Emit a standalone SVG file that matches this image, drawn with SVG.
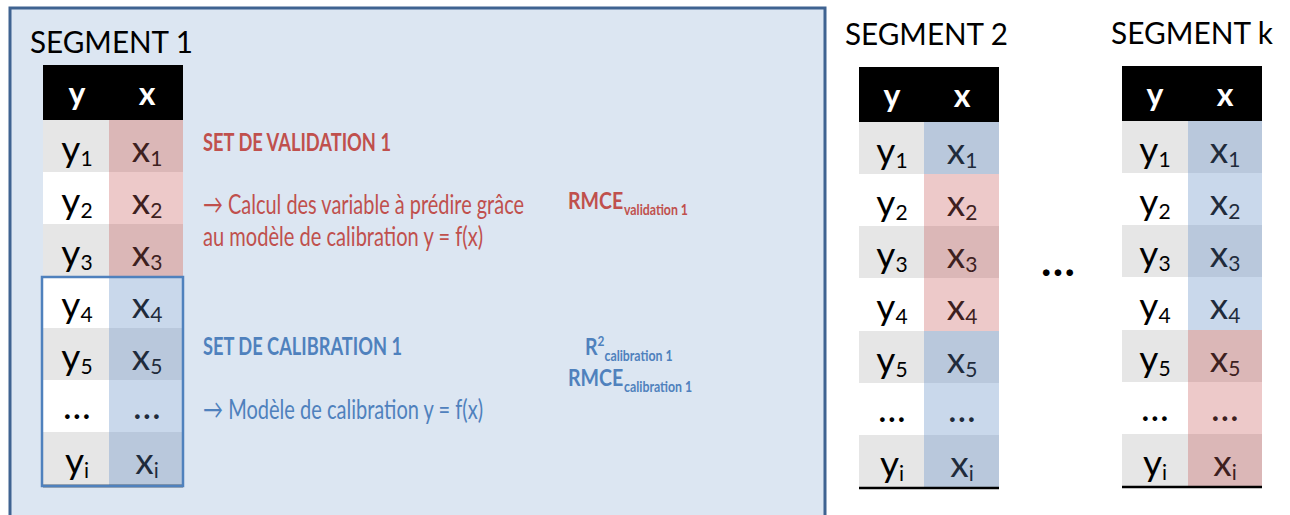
<svg xmlns="http://www.w3.org/2000/svg" width="1290" height="515" viewBox="0 0 1290 515">
<style>
text{font-family:Lato,"Open Sans","Liberation Sans",sans-serif}
.title{font-size:30px;fill:#000}
.hd{font-size:32px;font-weight:bold;fill:#fff;text-anchor:middle}
.c{font-size:37px;text-anchor:middle;fill:#000}
.cr{font-size:37px;text-anchor:middle;fill:#3d2020}
.cb{font-size:37px;text-anchor:middle;fill:#1f2b3b}
.s{font-size:21px}
.g{fill:#e6e6e6}
.w{fill:#ffffff}
.rd{fill:#dbb7b7}
.rl{fill:#edc9c9}
.bd{fill:#b9c8dc}
.bl{fill:#c9d8eb}
.red{fill:#c0504d}
.blue{fill:#4f81bd}
.m{font-size:23px;font-weight:bold}
.ms{font-size:14.5px}
</style>
<g id="segment1">
<rect x="10" y="8" width="815" height="520" fill="#dce6f2" stroke="#3f6391" stroke-width="3"/>
<text class="title" x="30" y="53" textLength="163" lengthAdjust="spacingAndGlyphs">SEGMENT 1</text>
<g id="table1">
<rect x="43" y="65" width="140" height="55" fill="#000"/>
<text class="hd" x="77" y="105">y</text><text class="hd" x="147" y="105">x</text>
<rect class="g" x="43" y="120" width="66" height="52"/><rect class="rd" x="109" y="120" width="74" height="52"/>
<rect class="w" x="43" y="172" width="66" height="52"/><rect class="rl" x="109" y="172" width="74" height="52"/>
<rect class="g" x="43" y="224" width="66" height="52"/><rect class="rd" x="109" y="224" width="74" height="52"/>
<rect class="w" x="43" y="276" width="66" height="52"/><rect class="bl" x="109" y="276" width="74" height="52"/>
<rect class="g" x="43" y="328" width="66" height="52"/><rect class="bd" x="109" y="328" width="74" height="52"/>
<rect class="w" x="43" y="380" width="66" height="52"/><rect class="bl" x="109" y="380" width="74" height="52"/>
<rect class="g" x="43" y="432" width="66" height="53"/><rect class="bd" x="109" y="432" width="74" height="53"/>
<line x1="43" y1="486" x2="183" y2="486" stroke="#000" stroke-width="2.5"/>
<text class="c" x="77" y="162">y<tspan class="s" dy="4">1</tspan></text><text class="cr" x="147" y="162">x<tspan class="s" dy="4">1</tspan></text>
<text class="c" x="77" y="214">y<tspan class="s" dy="4">2</tspan></text><text class="cr" x="147" y="214">x<tspan class="s" dy="4">2</tspan></text>
<text class="c" x="77" y="266">y<tspan class="s" dy="4">3</tspan></text><text class="cr" x="147" y="266">x<tspan class="s" dy="4">3</tspan></text>
<text class="c" x="77" y="318">y<tspan class="s" dy="4">4</tspan></text><text class="cb" x="147" y="318">x<tspan class="s" dy="4">4</tspan></text>
<text class="c" x="77" y="370">y<tspan class="s" dy="4">5</tspan></text><text class="cb" x="147" y="370">x<tspan class="s" dy="4">5</tspan></text>
<text class="c" x="77" y="419" font-size="26">…</text><text class="cb" x="147" y="419" font-size="26">…</text>
<text class="c" x="77" y="474">y<tspan class="s" dy="4">i</tspan></text><text class="cb" x="147" y="474">x<tspan class="s" dy="4">i</tspan></text>
<rect x="42" y="277" width="141" height="209" fill="none" stroke="#4f81bd" stroke-width="2.5"/>
</g>
<g id="validation-text">
<text class="red" x="203" y="151" font-size="24" font-weight="bold" textLength="188" lengthAdjust="spacingAndGlyphs">SET DE VALIDATION 1</text>
<text class="red" x="203" y="214" font-size="27" textLength="321" lengthAdjust="spacingAndGlyphs">→ Calcul des variable à prédire grâce</text>
<text class="red" x="203" y="246" font-size="27" textLength="280" lengthAdjust="spacingAndGlyphs">au modèle de calibration y = f(x)</text>
<text class="red m" transform="translate(568,209) scale(0.85,1)">RMCE<tspan class="ms" dx="1" dy="6">validation 1</tspan></text>
</g>
<g id="calibration-text">
<text class="blue" x="203" y="355" font-size="24" font-weight="bold" textLength="199" lengthAdjust="spacingAndGlyphs">SET DE CALIBRATION 1</text>
<text class="blue" x="203" y="419" font-size="27" textLength="280" lengthAdjust="spacingAndGlyphs">→ Modèle de calibration y = f(x)</text>
<text class="blue m" transform="translate(585,355) scale(0.85,1)">R<tspan font-size="14" dy="-9">2</tspan><tspan class="ms" dy="15">calibration 1</tspan></text>
<text class="blue m" transform="translate(568,386) scale(0.85,1)">RMCE<tspan class="ms" dx="1" dy="6">calibration 1</tspan></text>
</g>
</g>
<g id="segment2">
<text class="title" x="845" y="45" font-size="27" textLength="163" lengthAdjust="spacingAndGlyphs">SEGMENT 2</text>
<rect x="859" y="67" width="140" height="55" fill="#000"/>
<text class="hd" x="892" y="107">y</text><text class="hd" x="962" y="107">x</text>
<rect class="g" x="859" y="122" width="65" height="52"/><rect class="bd" x="924" y="122" width="75" height="52"/>
<rect class="w" x="859" y="174" width="65" height="52"/><rect class="rl" x="924" y="174" width="75" height="52"/>
<rect class="g" x="859" y="226" width="65" height="52"/><rect class="rd" x="924" y="226" width="75" height="52"/>
<rect class="w" x="859" y="278" width="65" height="53"/><rect class="rl" x="924" y="278" width="75" height="53"/>
<rect class="g" x="859" y="331" width="65" height="52"/><rect class="bd" x="924" y="331" width="75" height="52"/>
<rect class="w" x="859" y="383" width="65" height="52"/><rect class="bl" x="924" y="383" width="75" height="52"/>
<rect class="g" x="859" y="435" width="65" height="52"/><rect class="bd" x="924" y="435" width="75" height="52"/>
<line x1="859" y1="488" x2="999" y2="488" stroke="#000" stroke-width="2.5"/>
<text class="c" x="892" y="164">y<tspan class="s" dy="4">1</tspan></text><text class="cb" x="962" y="164">x<tspan class="s" dy="4">1</tspan></text>
<text class="c" x="892" y="216">y<tspan class="s" dy="4">2</tspan></text><text class="cr" x="962" y="216">x<tspan class="s" dy="4">2</tspan></text>
<text class="c" x="892" y="268">y<tspan class="s" dy="4">3</tspan></text><text class="cr" x="962" y="268">x<tspan class="s" dy="4">3</tspan></text>
<text class="c" x="892" y="320">y<tspan class="s" dy="4">4</tspan></text><text class="cr" x="962" y="320">x<tspan class="s" dy="4">4</tspan></text>
<text class="c" x="892" y="373">y<tspan class="s" dy="4">5</tspan></text><text class="cb" x="962" y="373">x<tspan class="s" dy="4">5</tspan></text>
<text class="c" x="892" y="422" font-size="26">…</text><text class="cb" x="962" y="422" font-size="26">…</text>
<text class="c" x="892" y="477">y<tspan class="s" dy="4">i</tspan></text><text class="cb" x="962" y="477">x<tspan class="s" dy="4">i</tspan></text>
</g>
<g id="ellipsis">
<text x="1058" y="276" font-size="44" font-weight="bold" text-anchor="middle" fill="#000">…</text>
</g>
<g id="segmentk">
<text class="title" x="1111" y="44" font-size="27" textLength="162" lengthAdjust="spacingAndGlyphs">SEGMENT k</text>
<rect x="1122" y="66" width="140" height="55" fill="#000"/>
<text class="hd" x="1155" y="106">y</text><text class="hd" x="1225" y="106">x</text>
<rect class="g" x="1122" y="121" width="66" height="52"/><rect class="bd" x="1188" y="121" width="74" height="52"/>
<rect class="w" x="1122" y="173" width="66" height="52"/><rect class="bl" x="1188" y="173" width="74" height="52"/>
<rect class="g" x="1122" y="225" width="66" height="52"/><rect class="bd" x="1188" y="225" width="74" height="52"/>
<rect class="w" x="1122" y="277" width="66" height="53"/><rect class="bl" x="1188" y="277" width="74" height="53"/>
<rect class="g" x="1122" y="330" width="66" height="52"/><rect class="rd" x="1188" y="330" width="74" height="52"/>
<rect class="w" x="1122" y="382" width="66" height="52"/><rect class="rl" x="1188" y="382" width="74" height="52"/>
<rect class="g" x="1122" y="434" width="66" height="52"/><rect class="rd" x="1188" y="434" width="74" height="52"/>
<line x1="1122" y1="487" x2="1262" y2="487" stroke="#000" stroke-width="2.5"/>
<text class="c" x="1155" y="163">y<tspan class="s" dy="4">1</tspan></text><text class="cb" x="1225" y="163">x<tspan class="s" dy="4">1</tspan></text>
<text class="c" x="1155" y="215">y<tspan class="s" dy="4">2</tspan></text><text class="cb" x="1225" y="215">x<tspan class="s" dy="4">2</tspan></text>
<text class="c" x="1155" y="267">y<tspan class="s" dy="4">3</tspan></text><text class="cb" x="1225" y="267">x<tspan class="s" dy="4">3</tspan></text>
<text class="c" x="1155" y="319">y<tspan class="s" dy="4">4</tspan></text><text class="cb" x="1225" y="319">x<tspan class="s" dy="4">4</tspan></text>
<text class="c" x="1155" y="372">y<tspan class="s" dy="4">5</tspan></text><text class="cr" x="1225" y="372">x<tspan class="s" dy="4">5</tspan></text>
<text class="c" x="1155" y="421" font-size="26">…</text><text class="cr" x="1225" y="421" font-size="26">…</text>
<text class="c" x="1155" y="476">y<tspan class="s" dy="4">i</tspan></text><text class="cr" x="1225" y="476">x<tspan class="s" dy="4">i</tspan></text>
</g>
</svg>
